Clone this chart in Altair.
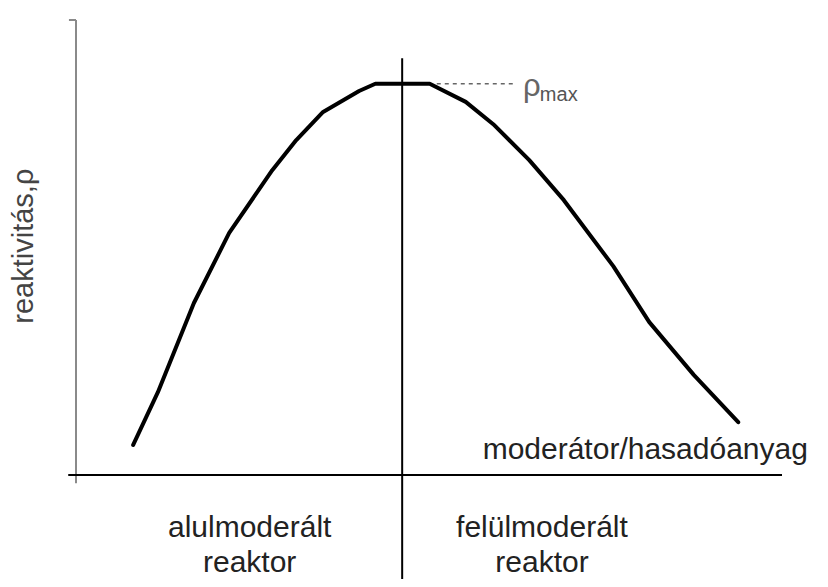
import altair as alt
import pandas as pd

# reactivity curve (schematic units 0..100)
curve_x = [8.1, 11.6, 16.7, 21.7, 27.8, 31.2, 35.0, 40.1, 42.4, 50.1, 55.2, 59.1, 64.2, 69.1, 76.1, 81.2, 87.5, 93.8]
curve_y = [6.6, 18.2, 37.8, 53.2, 67.0, 73.6, 79.8, 84.4, 86.0, 86.0, 82.0, 77.1, 69.2, 60.4, 45.9, 33.6, 22.0, 11.6]

# optimum ratio (vertical divider) and rho_max level
x_opt = 46.2
rho_max = 86.0

# text labels
axis_x_label = "moderátor/hasadóanyag"
axis_y_label = "reaktivitás,ρ"
left_region = ["alulmoderált", "reaktor"]
right_region = ["felülmoderált", "reaktor"]

curve_df = pd.DataFrame({"x": curve_x, "y": curve_y})

xs = alt.Scale(domain=[0, 100], nice=False, zero=False)
ys = alt.Scale(domain=[0, 100], nice=False, zero=False)


def X():
    return alt.X("x:Q", scale=xs, axis=None)


def Y():
    return alt.Y("y:Q", scale=ys, axis=None)


FONT = "Liberation Sans"

curve = alt.Chart(curve_df).mark_line(color="black", strokeWidth=4, strokeJoin="round", strokeCap="round").encode(
    x=X(), y=Y()
)

# axes drawn as rules
xaxis = alt.Chart(pd.DataFrame({"x": [-1.1], "x2": [100.0], "y": [0.0]})).mark_rule(color="black", strokeWidth=2).encode(
    x=X(), x2="x2:Q", y=Y()
)
yaxis = alt.Chart(pd.DataFrame({"x": [0.0], "y": [-1.8], "y2": [100.0]})).mark_rule(color="#8a8a8a", strokeWidth=2).encode(
    x=X(), y=Y(), y2="y2:Q"
)
ytick = alt.Chart(pd.DataFrame({"x": [-1.0], "x2": [0.0], "y": [100.0]})).mark_rule(color="#8a8a8a", strokeWidth=2).encode(
    x=X(), x2="x2:Q", y=Y()
)

divider = alt.Chart(pd.DataFrame({"x": [x_opt], "y": [-24.6], "y2": [91.6]})).mark_rule(color="black", strokeWidth=2).encode(
    x=X(), y=Y(), y2="y2:Q"
)

dotted = alt.Chart(pd.DataFrame({"x": [51.1], "x2": [62.2], "y": [rho_max]})).mark_rule(
    color="#666666", strokeWidth=1.5, strokeDash=[4, 4]
).encode(x=X(), x2="x2:Q", y=Y())

rho = alt.Chart(pd.DataFrame({"x": [63.3], "y": [83.3], "t": ["ρ"]})).mark_text(
    font=FONT, fontSize=31, color="#666666", align="left", baseline="alphabetic"
).encode(x=X(), y=Y(), text="t:N")
rho_sub = alt.Chart(pd.DataFrame({"x": [65.7], "y": [82.2], "t": ["max"]})).mark_text(
    font=FONT, fontSize=20, color="#555555", align="left", baseline="alphabetic"
).encode(x=X(), y=Y(), text="t:N")

xlabel = alt.Chart(pd.DataFrame({"x": [57.6], "y": [3.5], "t": [axis_x_label]})).mark_text(
    font=FONT, fontSize=30, color="#222222", align="left", baseline="alphabetic"
).encode(x=X(), y=Y(), text="t:N")

ylabel = alt.Chart(pd.DataFrame({"x": [-7.3], "y": [50.3], "t": [axis_y_label]})).mark_text(
    font=FONT, fontSize=29, color="#444444", align="center", baseline="middle", angle=270
).encode(x=X(), y=Y(), text="t:N")

region_df = pd.DataFrame({
    "x": [24.6, 24.6, 66.0, 66.0],
    "y": [-13.6, -21.3, -13.6, -21.3],
    "t": [left_region[0], left_region[1], right_region[0], right_region[1]],
})
regions = alt.Chart(region_df).mark_text(
    font=FONT, fontSize=30, color="#222222", align="center", baseline="alphabetic"
).encode(x=X(), y=Y(), text="t:N")

chart = alt.layer(
    yaxis, ytick, xaxis, divider, dotted, curve, rho, rho_sub, xlabel, ylabel, regions
).properties(
    width=706,
    height=455,
    autosize=alt.AutoSizeParams(type="none"),
    padding={"left": 68, "top": 12, "right": 30, "bottom": 104},
    background="white",
).configure_view(stroke=None)

chart.save("out.html", embed_options={"renderer": "svg", "actions": False})
